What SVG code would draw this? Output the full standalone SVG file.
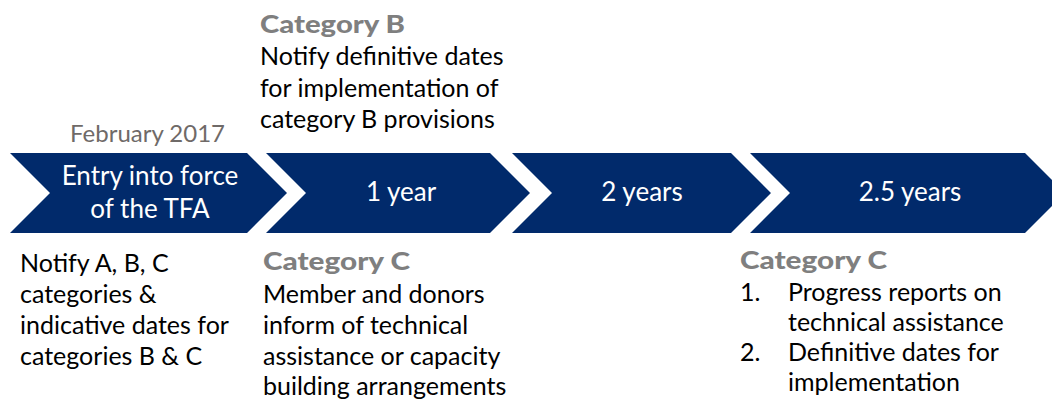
<svg xmlns="http://www.w3.org/2000/svg" width="1052" height="400" viewBox="0 0 1052 400">
<style>
.chev{fill:#012A6B}
text{font-family:Lato,"Open Sans","Liberation Sans",sans-serif;font-size:25px}
.w{fill:#ffffff;font-size:26px}
.b{fill:#000000}
.g{fill:#6f6a68;font-size:24px}
.h{fill:#7f7f7f;font-weight:900}
.m{text-anchor:middle}
</style>
<g id="chevron1">
<path class="chev" d="M10,153 L247,153 L287,193 L247,233 L10,233 L50,193 Z"/>
<text class="w m" x="150" y="185">Entry into force</text>
<text class="w m" x="150" y="218">of the TFA</text>
</g>
<g id="chevron2">
<path class="chev" d="M266,153 L490,153 L530,193 L490,233 L266,233 L306,193 Z"/>
<text class="w m" x="401" y="201">1 year</text>
</g>
<g id="chevron3">
<path class="chev" d="M512,153 L731,153 L771,193 L731,233 L512,233 L552,193 Z"/>
<text class="w m" x="642" y="201">2 years</text>
</g>
<g id="chevron4">
<path class="chev" d="M750,153 L1025,153 L1065,193 L1025,233 L750,233 L790,193 Z"/>
<text class="w m" x="910" y="201">2.5 years</text>
</g>
<g id="label-feb">
<text class="g" x="70" y="142">February 2017</text>
</g>
<g id="note-catB">
<text class="h" x="260" y="33" textLength="145" lengthAdjust="spacingAndGlyphs">Category B</text>
<text class="b" x="260" y="65">Notify definitive dates</text>
<text class="b" x="260" y="97">for implementation of</text>
<text class="b" x="260" y="128">category B provisions</text>
</g>
<g id="note-notify">
<text class="b" x="20" y="272">Notify A, B, C</text>
<text class="b" x="20" y="303">categories &amp;</text>
<text class="b" x="20" y="334">indicative dates for</text>
<text class="b" x="20" y="365">categories B &amp; C</text>
</g>
<g id="note-catC1">
<text class="h" x="263" y="270" textLength="147" lengthAdjust="spacingAndGlyphs">Category C</text>
<text class="b" x="263" y="303">Member and donors</text>
<text class="b" x="263" y="334">inform of technical</text>
<text class="b" x="263" y="365">assistance or capacity</text>
<text class="b" x="263" y="395">building arrangements</text>
</g>
<g id="note-catC2">
<text class="h" x="740" y="269" textLength="147" lengthAdjust="spacingAndGlyphs">Category C</text>
<text class="b" x="740" y="301">1.</text>
<text class="b" x="788" y="301">Progress reports on</text>
<text class="b" x="788" y="331">technical assistance</text>
<text class="b" x="740" y="361">2.</text>
<text class="b" x="788" y="361">Definitive dates for</text>
<text class="b" x="788" y="391">implementation</text>
</g>
<g id="connectors"></g>
</svg>
